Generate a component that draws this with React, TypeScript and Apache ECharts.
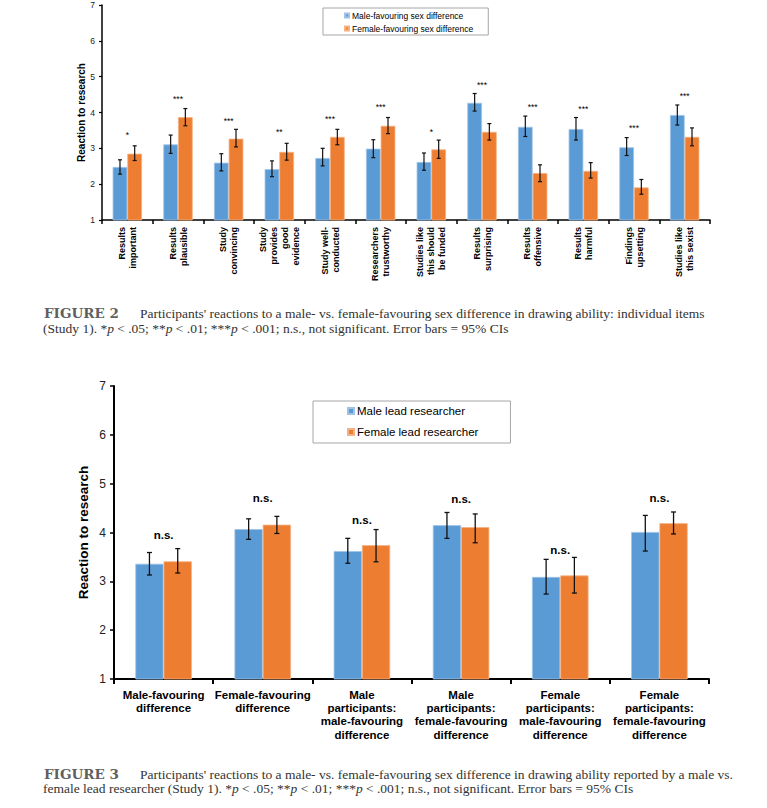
import React, { useEffect, useRef } from "react";
import * as echarts from "echarts";

// ---------- Figure 2 data ----------
const items1 = [
  "Results\nimportant",
  "Results\nplausible",
  "Study\nconvincing",
  "Study\nprovides\ngood\nevidence",
  "Study well-\nconducted",
  "Researchers\ntrustworthy",
  "Studies like\nthis should\nbe funded",
  "Results\nsurprising",
  "Results\noffensive",
  "Results\nharmful",
  "Findings\nupsetting",
  "Studies like\nthis sexist",
];
const series1Names = ["Male-favouring sex difference", "Female-favouring sex difference"];
const male1 = [2.48, 3.11, 2.6, 2.42, 2.73, 2.99, 2.62, 4.27, 3.6, 3.54, 3.03, 3.93];
const male1Lo = [2.28, 2.86, 2.37, 2.21, 2.51, 2.74, 2.39, 4.04, 3.33, 3.23, 2.8, 3.65];
const male1Hi = [2.68, 3.37, 2.85, 2.65, 3.0, 3.24, 2.87, 4.53, 3.9, 3.86, 3.3, 4.21];
const female1 = [2.85, 3.87, 3.27, 2.9, 3.32, 3.63, 2.97, 3.46, 2.31, 2.37, 1.91, 3.32];
const female1Lo = [2.66, 3.63, 3.04, 2.67, 3.1, 3.41, 2.72, 3.23, 2.07, 2.17, 1.72, 3.07];
const female1Hi = [3.07, 4.11, 3.53, 3.14, 3.53, 3.86, 3.23, 3.69, 2.54, 2.6, 2.13, 3.57];
const sig1 = ["*", "***", "***", "**", "***", "***", "*", "***", "***", "***", "***", "***"];
const sig1Y = [3.44, 4.44, 3.82, 3.51, 3.88, 4.21, 3.51, 4.83, 4.21, 4.14, 3.61, 4.53];

// ---------- Figure 3 data ----------
const cats2 = [
  "Male-favouring\ndifference",
  "Female-favouring\ndifference",
  "Male\nparticipants:\nmale-favouring\ndifference",
  "Male\nparticipants:\nfemale-favouring\ndifference",
  "Female\nparticipants:\nmale-favouring\ndifference",
  "Female\nparticipants:\nfemale-favouring\ndifference",
];
const series2Names = ["Male lead researcher", "Female lead researcher"];
const male2 = [3.36, 4.07, 3.62, 4.15, 3.09, 4.01];
const male2Lo = [3.13, 3.86, 3.37, 3.88, 2.74, 3.62];
const male2Hi = [3.59, 4.28, 3.88, 4.41, 3.45, 4.35];
const female2 = [3.41, 4.16, 3.74, 4.11, 3.12, 4.19];
const female2Lo = [3.17, 3.98, 3.4, 3.79, 2.76, 3.97];
const female2Hi = [3.67, 4.33, 4.06, 4.38, 3.49, 4.42];
const sig2 = ["n.s.", "n.s.", "n.s.", "n.s.", "n.s.", "n.s."];
const sig2Y = [3.94, 4.7, 4.26, 4.68, 3.65, 4.71];

const yTicksMin = 1;
const yTicksMax = 7;

// ---------- captions ----------
const fig2Label = "FIGURE 2";
const fig2Line1 =
  "Participants' reactions to a male- vs. female-favouring sex difference in drawing ability: individual items";
const fig2Line2 =
  "(Study 1). *{i|p} < .05; **{i|p} < .01; ***{i|p} < .001; n.s., not significant. Error bars = 95% CIs";
const fig3Label = "FIGURE 3";
const fig3Line1 =
  "Participants' reactions to a male- vs. female-favouring sex difference in drawing ability reported by a male vs.";
const fig3Line2 =
  "female lead researcher (Study 1). *{i|p} < .05; **{i|p} < .01; ***{i|p} < .001; n.s., not significant. Error bars = 95% CIs";

const BLUE = "#5B9BD5";
const ORANGE = "#ED7D31";
const SANS = "'Liberation Sans', Arial, sans-serif";
const SERIF = "'Liberation Serif', 'Times New Roman', serif";

function errRenderer(sign: number, ratio: number, cap: number, lw: number) {
  return (params: any, api: any) => {
    const i = api.value(0);
    const lo = api.coord([i, api.value(1)]);
    const hi = api.coord([i, api.value(2)]);
    const bw = api.size([1, 0])[0] * ratio;
    const x = lo[0] + (sign * bw) / 2;
    const style = { stroke: "#111", lineWidth: lw };
    return {
      type: "group",
      children: [
        { type: "line", shape: { x1: x, y1: lo[1], x2: x, y2: hi[1] }, style },
        { type: "line", shape: { x1: x - cap, y1: hi[1], x2: x + cap, y2: hi[1] }, style },
        { type: "line", shape: { x1: x - cap, y1: lo[1], x2: x + cap, y2: lo[1] }, style },
      ],
    };
  };
}

function sigRenderer(labels: string[], fontSize: number, fontWeight: string, dy: number) {
  return (params: any, api: any) => {
    const p = api.coord([api.value(0), api.value(1)]);
    return {
      type: "text",
      x: p[0],
      y: p[1] + dy,
      style: {
        text: labels[params.dataIndex],
        align: "center",
        verticalAlign: "middle",
        fontSize,
        fontWeight,
        fontFamily: SANS,
        fill: "#000",
      },
    };
  };
}

function captionText(text: string, x: number, y: number, label: boolean) {
  const base: any = label
    ? { fontSize: 13.5, fontWeight: "bold", fontFamily: "'DejaVu Serif', serif", fill: "#5f5f5f" }
    : { fontSize: 13.5, fontFamily: SERIF, fill: "#333" };
  return {
    type: "text",
    x,
    y,
    style: {
      ...base,
      text,
      align: "left",
      verticalAlign: "middle",
      lineHeight: 13,
      rich: { i: { fontStyle: "italic", fontSize: 13.5, fontFamily: SERIF, fill: "#333", lineHeight: 13 } },
    },
  };
}

export default function App() {
  const ref = useRef<HTMLDivElement>(null);

  useEffect(() => {
    if (!ref.current) return;
    const chart = echarts.init(ref.current, undefined, { renderer: "svg" });

    const axisLine = (w: number) => ({ show: true, lineStyle: { color: "#000", width: w } });

    const option: any = {
      animation: false,
      backgroundColor: "#fff",
      textStyle: { fontFamily: SANS },
      grid: [
        { left: 102, top: 5, width: 608, height: 215 },
        { left: 114, top: 386, width: 595, height: 293 },
      ],
      xAxis: [
        {
          type: "category",
          gridIndex: 0,
          data: items1,
          axisLine: axisLine(1.5),
          axisTick: { show: true, length: 4, lineStyle: { color: "#000", width: 1.5 } },
          axisLabel: {
            interval: 0,
            rotate: 90,
            fontSize: 9,
            fontWeight: "bold",
            color: "#000",
            lineHeight: 11,
            margin: 7,
            fontFamily: SANS,
          },
        },
        {
          type: "category",
          gridIndex: 1,
          data: cats2,
          axisLine: axisLine(2),
          axisTick: { show: true, length: 5, lineStyle: { color: "#000", width: 2 } },
          axisLabel: {
            interval: 0,
            fontSize: 11.5,
            fontWeight: "bold",
            color: "#000",
            lineHeight: 13.3,
            margin: 9,
            fontFamily: SANS,
          },
        },
      ],
      yAxis: [
        {
          type: "value",
          gridIndex: 0,
          min: yTicksMin,
          max: yTicksMax,
          interval: 1,
          name: "Reaction to research",
          nameLocation: "middle",
          nameRotate: 90,
          nameGap: 16,
          nameMoveOverlap: false,
          nameTextStyle: { fontSize: 10, fontWeight: "bold", color: "#000", fontFamily: SANS },
          axisLine: axisLine(1.5),
          axisTick: { show: true, length: 3, lineStyle: { color: "#000", width: 1.2 } },
          splitLine: { show: false },
          axisLabel: { fontSize: 8.5, color: "#222", margin: 7, fontFamily: SANS },
        },
        {
          type: "value",
          gridIndex: 1,
          min: yTicksMin,
          max: yTicksMax,
          interval: 1,
          name: "Reaction to research",
          nameLocation: "middle",
          nameRotate: 90,
          nameGap: 24,
          nameMoveOverlap: false,
          nameTextStyle: { fontSize: 13.5, fontWeight: "bold", color: "#000", fontFamily: SANS },
          axisLine: axisLine(2),
          axisTick: { show: true, length: 4, lineStyle: { color: "#000", width: 1.5 } },
          splitLine: { show: false },
          axisLabel: { fontSize: 12, color: "#222", margin: 8, fontFamily: SANS },
        },
      ],
      legend: [
        {
          data: series1Names,
          orient: "vertical",
          left: 323,
          top: 8,
          icon: "rect",
          itemWidth: 4,
          itemHeight: 4,
          itemGap: 4,
          padding: [3, 15, 2, 21],
          borderColor: "#a6a6a6",
          borderWidth: 1,
          selectedMode: false,
          textStyle: { fontSize: 8.5, color: "#000", fontFamily: SANS, padding: [0, 0, 0, -2] },
        },
        {
          data: series2Names,
          orient: "vertical",
          left: 313,
          top: 401,
          icon: "rect",
          itemWidth: 6,
          itemHeight: 6,
          itemGap: 9,
          padding: [4, 32, 5, 34],
          borderColor: "#a6a6a6",
          borderWidth: 1,
          selectedMode: false,
          textStyle: { fontSize: 11.5, color: "#000", fontFamily: SANS, padding: [0, 0, 0, -2] },
        },
      ],
      series: [
        // Figure 2 bars
        {
          type: "bar",
          name: series1Names[0],
          xAxisIndex: 0,
          yAxisIndex: 0,
          data: male1,
          barWidth: "29%",
          barGap: "0%",
          itemStyle: { color: BLUE, borderColor: "#9fc3e7", borderWidth: 0.8 },
        },
        {
          type: "bar",
          name: series1Names[1],
          xAxisIndex: 0,
          yAxisIndex: 0,
          data: female1,
          barWidth: "29%",
          barGap: "0%",
          itemStyle: { color: ORANGE, borderColor: "#f4b183", borderWidth: 0.8 },
        },
        {
          type: "custom",
          xAxisIndex: 0,
          yAxisIndex: 0,
          silent: true,
          z: 10,
          encode: { x: 0, y: [1, 2] },
          data: items1.map((_, i) => [i, male1Lo[i], male1Hi[i]]),
          renderItem: errRenderer(-1, 0.29, 2, 1.2),
        },
        {
          type: "custom",
          xAxisIndex: 0,
          yAxisIndex: 0,
          silent: true,
          z: 10,
          encode: { x: 0, y: [1, 2] },
          data: items1.map((_, i) => [i, female1Lo[i], female1Hi[i]]),
          renderItem: errRenderer(1, 0.29, 2, 1.2),
        },
        {
          type: "custom",
          xAxisIndex: 0,
          yAxisIndex: 0,
          silent: true,
          z: 10,
          encode: { x: 0, y: 1 },
          data: items1.map((_, i) => [i, sig1Y[i]]),
          renderItem: sigRenderer(sig1, 8.5, "normal", 2),
        },
        // Figure 3 bars
        {
          type: "bar",
          name: series2Names[0],
          xAxisIndex: 1,
          yAxisIndex: 1,
          data: male2,
          barWidth: "28.5%",
          barGap: "0%",
          itemStyle: { color: BLUE, borderColor: "#9fc3e7", borderWidth: 0.8 },
        },
        {
          type: "bar",
          name: series2Names[1],
          xAxisIndex: 1,
          yAxisIndex: 1,
          data: female2,
          barWidth: "28.5%",
          barGap: "0%",
          itemStyle: { color: ORANGE, borderColor: "#f4b183", borderWidth: 0.8 },
        },
        {
          type: "custom",
          xAxisIndex: 1,
          yAxisIndex: 1,
          silent: true,
          z: 10,
          encode: { x: 0, y: [1, 2] },
          data: cats2.map((_, i) => [i, male2Lo[i], male2Hi[i]]),
          renderItem: errRenderer(-1, 0.285, 2.5, 1.3),
        },
        {
          type: "custom",
          xAxisIndex: 1,
          yAxisIndex: 1,
          silent: true,
          z: 10,
          encode: { x: 0, y: [1, 2] },
          data: cats2.map((_, i) => [i, female2Lo[i], female2Hi[i]]),
          renderItem: errRenderer(1, 0.285, 2.5, 1.3),
        },
        {
          type: "custom",
          xAxisIndex: 1,
          yAxisIndex: 1,
          silent: true,
          z: 10,
          encode: { x: 0, y: 1 },
          data: cats2.map((_, i) => [i, sig2Y[i]]),
          renderItem: sigRenderer(sig2, 11.5, "bold", 0),
        },
      ],
      graphic: [
        captionText(fig2Label, 44, 313, true),
        captionText(fig2Line1, 140, 313, false),
        captionText(fig2Line2, 43, 328, false),
        captionText(fig3Label, 44, 774, true),
        captionText(fig3Line1, 140, 774, false),
        captionText(fig3Line2, 43, 788, false),
      ],
    };

    chart.setOption(option);
    return () => chart.dispose();
  }, []);

  return (
    <div
      ref={ref}
      style={{ position: "absolute", left: 0, top: 0, width: 767, height: 808, background: "#fff" }}
    />
  );
}
